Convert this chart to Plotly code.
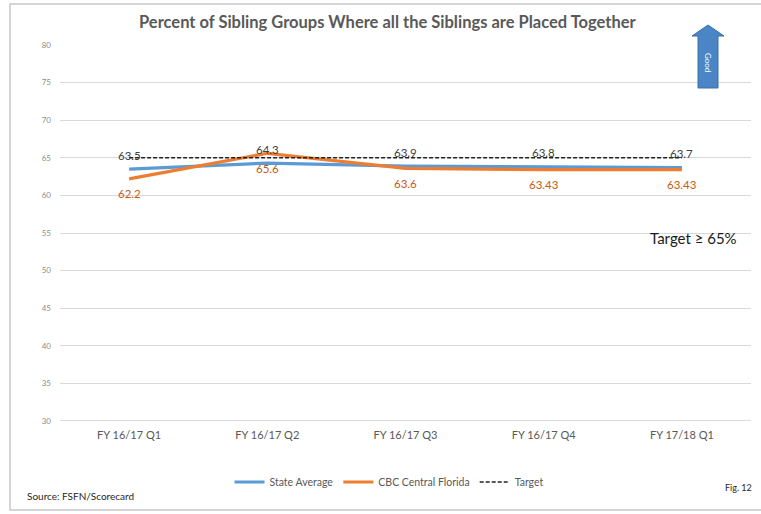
import plotly.graph_objects as go

# Quarterly sibling-placement percentages
quarters = ["FY 16/17 Q1", "FY 16/17 Q2", "FY 16/17 Q3", "FY 16/17 Q4", "FY 17/18 Q1"]
state_average = [63.5, 64.3, 63.9, 63.8, 63.7]
cbc_central_florida = [62.2, 65.6, 63.6, 63.43, 63.43]
target = [65, 65, 65, 65, 65]
y_ticks = [30, 35, 40, 45, 50, 55, 60, 65, 70, 75, 80]

W, H = 761, 514
L, R, T, B = 60, 10, 45, 93
PW, PH = W - L - R, H - T - B


def px(x):
    return (x - L) / PW


def py(y):
    return (H - B - y) / PH


FONT = "Lato, 'Open Sans', sans-serif"
BLUE = "#5B9BD5"
ORANGE = "#ED7D31"

fig = go.Figure()
fig.add_trace(go.Scatter(x=quarters, y=state_average, name="State Average",
                         mode="lines", line=dict(color=BLUE, width=3.2)))
fig.add_trace(go.Scatter(x=quarters, y=cbc_central_florida, name="CBC Central Florida",
                         mode="lines", line=dict(color=ORANGE, width=3.2)))
fig.add_trace(go.Scatter(x=quarters, y=target, name="Target",
                         mode="lines", line=dict(color="#222222", width=1.4, dash="4px,2px")))

annotations = []
for q, v in zip(quarters, state_average):
    annotations.append(dict(x=q, y=v, text=f"{v:g}", showarrow=False, yshift=14,
                            font=dict(family=FONT, size=11.5, color="#404040")))
for q, v in zip(quarters, cbc_central_florida):
    annotations.append(dict(x=q, y=v, text=f"{v:g}", showarrow=False, yshift=-15,
                            font=dict(family=FONT, size=11.5, color="#C55A11")))

annotations += [
    dict(xref="paper", yref="paper", x=px(388), y=py(22), xanchor="center", yanchor="middle",
         text="<b>Percent of Sibling Groups Where all the Siblings are Placed Together</b>",
         showarrow=False, font=dict(family=FONT, size=16.5, color="#595959")),
    dict(xref="paper", yref="paper", x=px(693), y=py(238), xanchor="center", yanchor="middle",
         text="Target ≥ 65%", showarrow=False, font=dict(family=FONT, size=15, color="#1a1a1a")),
    dict(xref="paper", yref="paper", x=px(25), y=py(496), xanchor="left", yanchor="middle",
         text="Source: FSFN/Scorecard", showarrow=False, font=dict(family=FONT, size=10, color="#262626")),
    dict(xref="paper", yref="paper", x=px(738), y=py(488), xanchor="center", yanchor="middle",
         text="Fig. 12", showarrow=False, font=dict(family=FONT, size=9, color="#262626")),
    dict(xref="paper", yref="paper", x=px(708), y=py(62), xanchor="center", yanchor="middle",
         text="Good", textangle=90, showarrow=False, font=dict(family=FONT, size=8, color="white")),
]

# Upward "Good" arrow
ax = [698, 718, 718, 724, 708, 692, 698, 698]
ay = [88, 88, 36, 36, 25, 36, 36, 88]
arrow_path = "M " + " L ".join(f"{px(a)},{py(b)}" for a, b in zip(ax, ay)) + " Z"

shapes = [
    dict(type="path", xref="paper", yref="paper", path=arrow_path,
         fillcolor="#4A86C5", line=dict(color="#3A6FA8", width=1)),
    # chart frame
    dict(type="rect", xref="paper", yref="paper", x0=px(10), x1=px(770), y0=py(4), y1=py(510),
         line=dict(color="#C8C8C8", width=1.5), fillcolor="rgba(0,0,0,0)", layer="below"),
]

fig.update_layout(
    width=W, height=H,
    margin=dict(l=L, r=R, t=T, b=B),
    paper_bgcolor="white", plot_bgcolor="white",
    font=dict(family=FONT, color="#595959"),
    showlegend=True,
    legend=dict(orientation="h", x=px(389), xanchor="center", y=py(482), yanchor="middle",
                font=dict(family=FONT, size=10.5, color="#595959"), itemwidth=30,
                bgcolor="rgba(0,0,0,0)"),
    annotations=annotations,
    shapes=shapes,
    xaxis=dict(range=[-0.5, 4.5], showgrid=False, showline=False, ticks="", zeroline=False,
               tickfont=dict(family=FONT, size=11, color="#595959"), ticklabelstandoff=6),
    yaxis=dict(range=[30, 80], tickvals=y_ticks, showgrid=True, gridcolor="#D9D9D9", gridwidth=1,
               zeroline=False, showline=False, ticks="",
               tickfont=dict(family=FONT, size=8, color="#8C8C8C"), ticklabelstandoff=8),
)
fig.add_hline(y=30, line=dict(color="#D0D0D0", width=1.5), layer="below")

fig.write_html("out.html")
